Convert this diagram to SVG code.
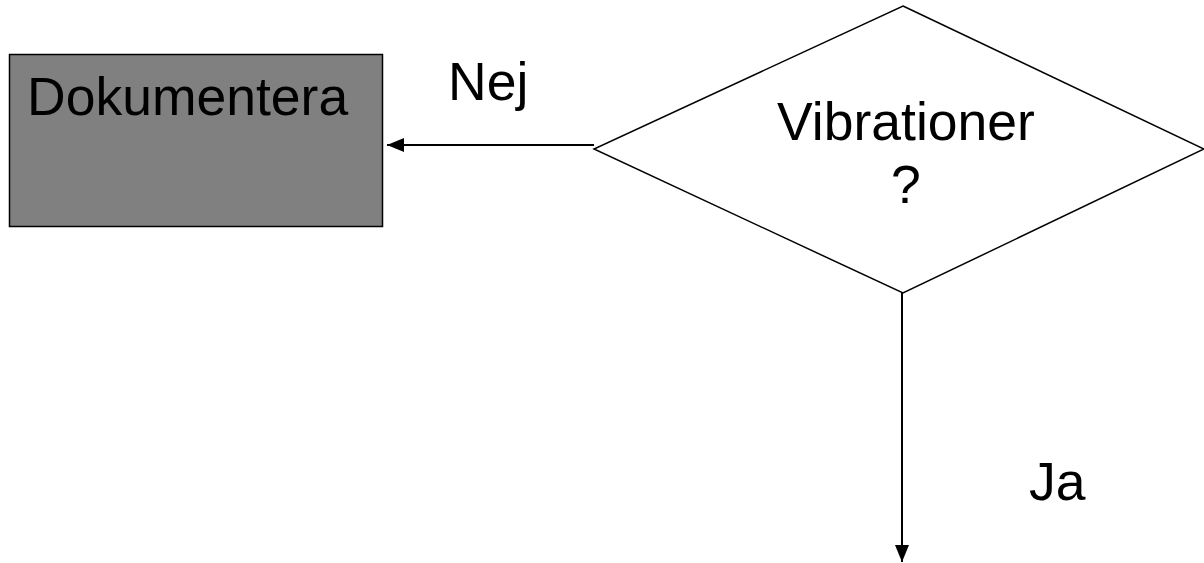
<svg xmlns="http://www.w3.org/2000/svg" width="1204" height="563" viewBox="0 0 1204 563">
<style>
text{font-family:"Liberation Sans",Arial,sans-serif;font-size:53.5px;fill:#000}
.conn{stroke:#000;stroke-width:2;fill:none}
</style>
<defs>
<marker id="arr" markerUnits="userSpaceOnUse" markerWidth="17" markerHeight="17" viewBox="0 0 17 17" refX="17" refY="8.5" orient="auto">
<path d="M0,1.5 L17,8.5 L0,15.5 Z" fill="#000"/>
</marker>
</defs>
<rect width="1204" height="563" fill="#fff"/>
<g id="dokumentera">
<rect x="9.5" y="54.5" width="373" height="172" fill="#808080" stroke="#000" stroke-width="1.5"/>
<text x="27" y="115">Dokumentera</text>
</g>
<g id="vibrationer">
<polygon points="903,6 1204,149 903,293 594,149" fill="#fff" stroke="#000" stroke-width="1.5"/>
<text x="906" y="140" text-anchor="middle">Vibrationer</text>
<text x="906" y="203" text-anchor="middle">?</text>
</g>
<g id="connectors">
<line class="conn" x1="594" y1="145" x2="387" y2="145" marker-end="url(#arr)"/>
<line class="conn" x1="902" y1="293" x2="902" y2="562" marker-end="url(#arr)"/>
<text x="448" y="100">Nej</text>
<text x="1029" y="500">Ja</text>
</g>
</svg>
